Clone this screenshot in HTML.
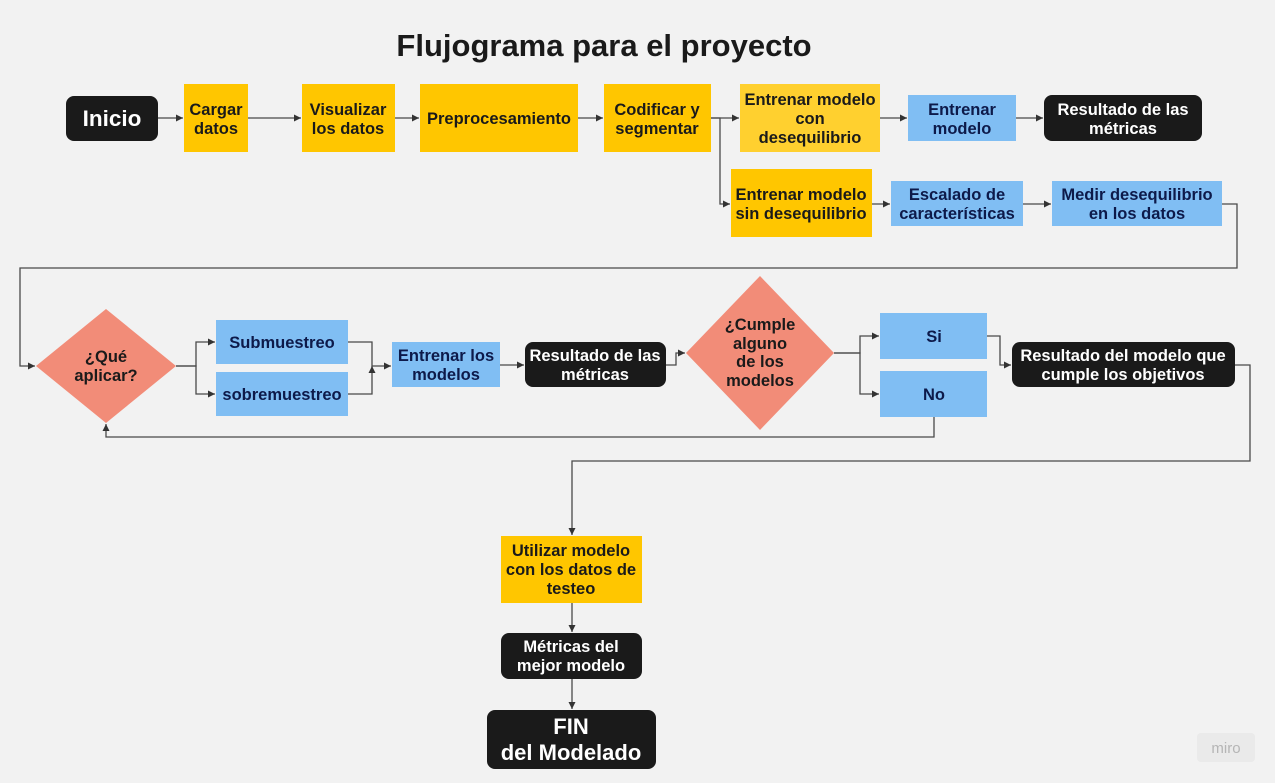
<!DOCTYPE html>
<html><head><meta charset="utf-8"><style>
html,body{margin:0;padding:0;background:#f2f2f2}
svg{display:block}
text{font-family:"Liberation Sans",Arial,sans-serif;font-weight:bold;text-anchor:middle}
.y{fill:#ffc600}.b{fill:#80bef3}.k{fill:#1a1a1a}.d{fill:#f28c78}
.t{font-size:16.5px;fill:#1a1a1a}.tb{font-size:16.5px;fill:#0d1a4a}.w{font-size:16.5px;fill:#fff}
.l{fill:none;stroke:#4a4a4a;stroke-width:1.3}
</style></head><body>
<svg width="1275" height="783" viewBox="0 0 1275 783">
<defs><marker id="a" markerWidth="8" markerHeight="8" refX="7" refY="4" orient="auto" markerUnits="userSpaceOnUse"><path d="M0,0.5 L7,4 L0,7.5z" fill="#333"/></marker></defs>
<text x="604" y="56" style="font-size:31px;fill:#1a1a1a">Flujograma para el proyecto</text>

<g class="l" marker-end="url(#a)">
<path d="M158,118H183"/><path d="M248,118H301"/><path d="M395,118H419"/><path d="M578,118H603"/>
<path d="M711,118H739"/><path d="M711,118H720V204H730"/>
<path d="M880,118H907"/><path d="M1016,118H1043"/>
<path d="M872,204H890"/><path d="M1023,204H1051"/>
<path d="M1222,204H1237V268H20V366H35"/>
<path d="M176,366H196V342H215"/><path d="M176,366H196V394H215"/>
<path d="M348,342H372V366H391"/><path d="M348,394H372V366"/>
<path d="M500,365H524"/><path d="M666,365H676V353H685"/>
<path d="M834,353H860V336H879"/><path d="M834,353H860V394H879"/>
<path d="M987,336H1000V365H1011"/>
<path d="M934,417V437H106V424"/>
<path d="M1235,365H1250V461H572V535"/>
<path d="M572,603V632"/><path d="M572,679V709"/>
</g>

<rect x="66" y="96" width="92" height="45" rx="8" class="k"/>
<text x="112" y="126" style="font-size:22.5px;fill:#fff">Inicio</text>
<rect x="184" y="84" width="64" height="68" class="y"/>
<text x="216" y="115" class="t">Cargar</text><text x="216" y="134" class="t">datos</text>
<rect x="302" y="84" width="93" height="68" class="y"/>
<text x="348" y="115" class="t">Visualizar</text><text x="348" y="134" class="t">los datos</text>
<rect x="420" y="84" width="158" height="68" class="y"/>
<text x="499" y="124" class="t">Preprocesamiento</text>
<rect x="604" y="84" width="107" height="68" class="y"/>
<text x="657" y="115" class="t">Codificar y</text><text x="657" y="134" class="t">segmentar</text>
<rect x="740" y="84" width="140" height="68" style="fill:#ffd02f"/>
<text x="810" y="105" class="t">Entrenar modelo</text><text x="810" y="124" class="t">con</text><text x="810" y="143" class="t">desequilibrio</text>
<rect x="908" y="95" width="108" height="46" class="b"/>
<text x="962" y="115" class="tb">Entrenar</text><text x="962" y="134" class="tb">modelo</text>
<rect x="1044" y="95" width="158" height="46" rx="8" class="k"/>
<text x="1123" y="115" class="w">Resultado de las</text><text x="1123" y="134" class="w">métricas</text>

<rect x="731" y="169" width="141" height="68" class="y"/>
<text x="801" y="200" class="t">Entrenar modelo</text><text x="801" y="219" class="t">sin desequilibrio</text>
<rect x="891" y="181" width="132" height="45" class="b"/>
<text x="957" y="200" class="tb">Escalado de</text><text x="957" y="219" class="tb">características</text>
<rect x="1052" y="181" width="170" height="45" class="b"/>
<text x="1137" y="200" class="tb">Medir desequilibrio</text><text x="1137" y="219" class="tb">en los datos</text>

<polygon points="106,309 176,366 106,423 36,366" class="d"/>
<text x="106" y="362" class="t">¿Qué</text><text x="106" y="381" class="t">aplicar?</text>
<rect x="216" y="320" width="132" height="44" class="b"/>
<text x="282" y="348" class="tb">Submuestreo</text>
<rect x="216" y="372" width="132" height="44" class="b"/>
<text x="282" y="400" class="tb">sobremuestreo</text>
<rect x="392" y="342" width="108" height="45" class="b"/>
<text x="446" y="361" class="tb">Entrenar los</text><text x="446" y="380" class="tb">modelos</text>
<rect x="525" y="342" width="141" height="45" rx="8" class="k"/>
<text x="595" y="361" class="w">Resultado de las</text><text x="595" y="380" class="w">métricas</text>
<polygon points="760,276 834,353 760,430 686,353" class="d"/>
<text x="760" y="330" class="t">¿Cumple</text><text x="760" y="349" class="t">alguno</text><text x="760" y="367" class="t">de los</text><text x="760" y="386" class="t">modelos</text>
<rect x="880" y="313" width="107" height="46" class="b"/>
<text x="934" y="342" class="tb">Si</text>
<rect x="880" y="371" width="107" height="46" class="b"/>
<text x="934" y="400" class="tb">No</text>
<rect x="1012" y="342" width="223" height="45" rx="8" class="k"/>
<text x="1123" y="361" class="w">Resultado del modelo que</text><text x="1123" y="380" class="w">cumple los objetivos</text>

<rect x="501" y="536" width="141" height="67" class="y"/>
<text x="571" y="556" class="t">Utilizar modelo</text><text x="571" y="575" class="t">con los datos de</text><text x="571" y="594" class="t">testeo</text>
<rect x="501" y="633" width="141" height="46" rx="8" class="k"/>
<text x="571" y="652" class="w">Métricas del</text><text x="571" y="671" class="w">mejor modelo</text>
<rect x="487" y="710" width="169" height="59" rx="8" class="k"/>
<text x="571" y="734" style="font-size:22px;fill:#fff">FIN</text><text x="571" y="760" style="font-size:22px;fill:#fff">del Modelado</text>

<rect x="1197" y="733" width="58" height="29" rx="4" fill="#eaeaea"/>
<text x="1226" y="753" style="font-size:15px;fill:#b5b5b5;font-weight:normal">miro</text>
</svg>
</body></html>
